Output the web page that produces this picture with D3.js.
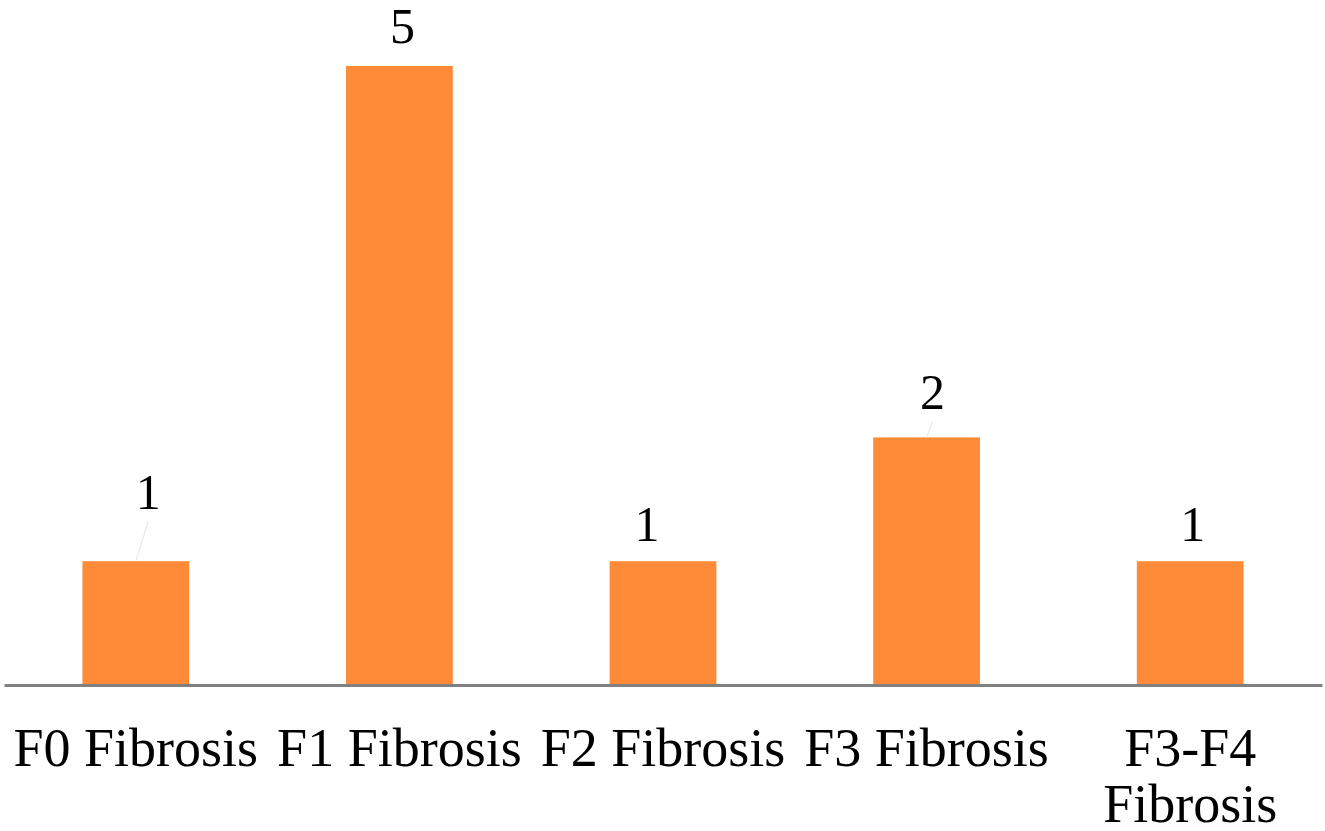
<!DOCTYPE html>
<html>
<head>
<meta charset="utf-8">
<script src="https://cdn.jsdelivr.net/npm/d3@7"></script>
<style>
  html, body { margin: 0; padding: 0; background: #ffffff; }
  svg { display: block; }
</style>
</head>
<body>
<svg id="chart" width="1325" height="831"></svg>
<script>
// ---- data ----
const categories = ["F0 Fibrosis", "F1 Fibrosis", "F2 Fibrosis", "F3 Fibrosis", "F3-F4 Fibrosis"];
const values = [1, 5, 1, 2, 1];
const categoryLines = [["F0 Fibrosis"], ["F1 Fibrosis"], ["F2 Fibrosis"], ["F3 Fibrosis"], ["F3-F4", "Fibrosis"]];

// ---- layout / style ----
const W = 1325, H = 831;
const svg = d3.select("#chart");
const fontFamily = "'Liberation Serif', 'Times New Roman', serif";
const barColor = "#FF8A38";

const x = d3.scaleBand().domain(categories).range([4, 1322]).padding(0);
const y = d3.scaleLinear().domain([0, 5]).range([685, 66]);
const barW = x.bandwidth() * 0.405;

// bars
svg.append("g").selectAll("rect")
  .data(values)
  .join("rect")
  .attr("x", (d, i) => x(categories[i]) + x.bandwidth() / 2 - barW / 2)
  .attr("y", d => y(d))
  .attr("width", barW)
  .attr("height", d => y(0) - y(d))
  .attr("fill", barColor);

// baseline axis
const xAxis = d3.axisBottom(x).tickSize(0).tickFormat("");
const axisG = svg.append("g").attr("transform", `translate(0,${y(0)})`).call(xAxis);
axisG.select(".domain").attr("stroke", "#808080").attr("stroke-width", 3);

// category labels
const catG = svg.append("g")
  .attr("font-family", fontFamily)
  .attr("font-size", 54)
  .attr("fill", "#000");
categoryLines.forEach((lines, i) => {
  const t = catG.append("text")
    .attr("x", x(categories[i]) + x.bandwidth() / 2)
    .attr("y", 766)
    .attr("text-anchor", "middle");
  lines.forEach((ln, j) => {
    t.append("tspan")
      .attr("x", x(categories[i]) + x.bandwidth() / 2)
      .attr("dy", j === 0 ? 0 : 56)
      .text(ln);
  });
});

// value labels (nudged like the reference, with leader lines where moved)
const nudge = [[12.5, -52, true], [3, -23, false], [-16, -20, false], [6, -28, true], [2.5, -20, false]];
const lblG = svg.append("g")
  .attr("font-family", fontFamily)
  .attr("font-size", 50)
  .attr("fill", "#000");
values.forEach((v, i) => {
  const cx = x(categories[i]) + x.bandwidth() / 2;
  const top = y(v);
  const [dx, dy, leader] = nudge[i];
  if (leader) {
    svg.append("line")
      .attr("x1", cx + dx).attr("y1", top + dy + 12)
      .attr("x2", cx).attr("y2", top)
      .attr("stroke", "#e8e8e8").attr("stroke-width", 1.2);
  }
  lblG.append("text")
    .attr("x", cx + dx)
    .attr("y", top + dy)
    .attr("text-anchor", "middle")
    .text(v);
});
</script>
</body>
</html>
